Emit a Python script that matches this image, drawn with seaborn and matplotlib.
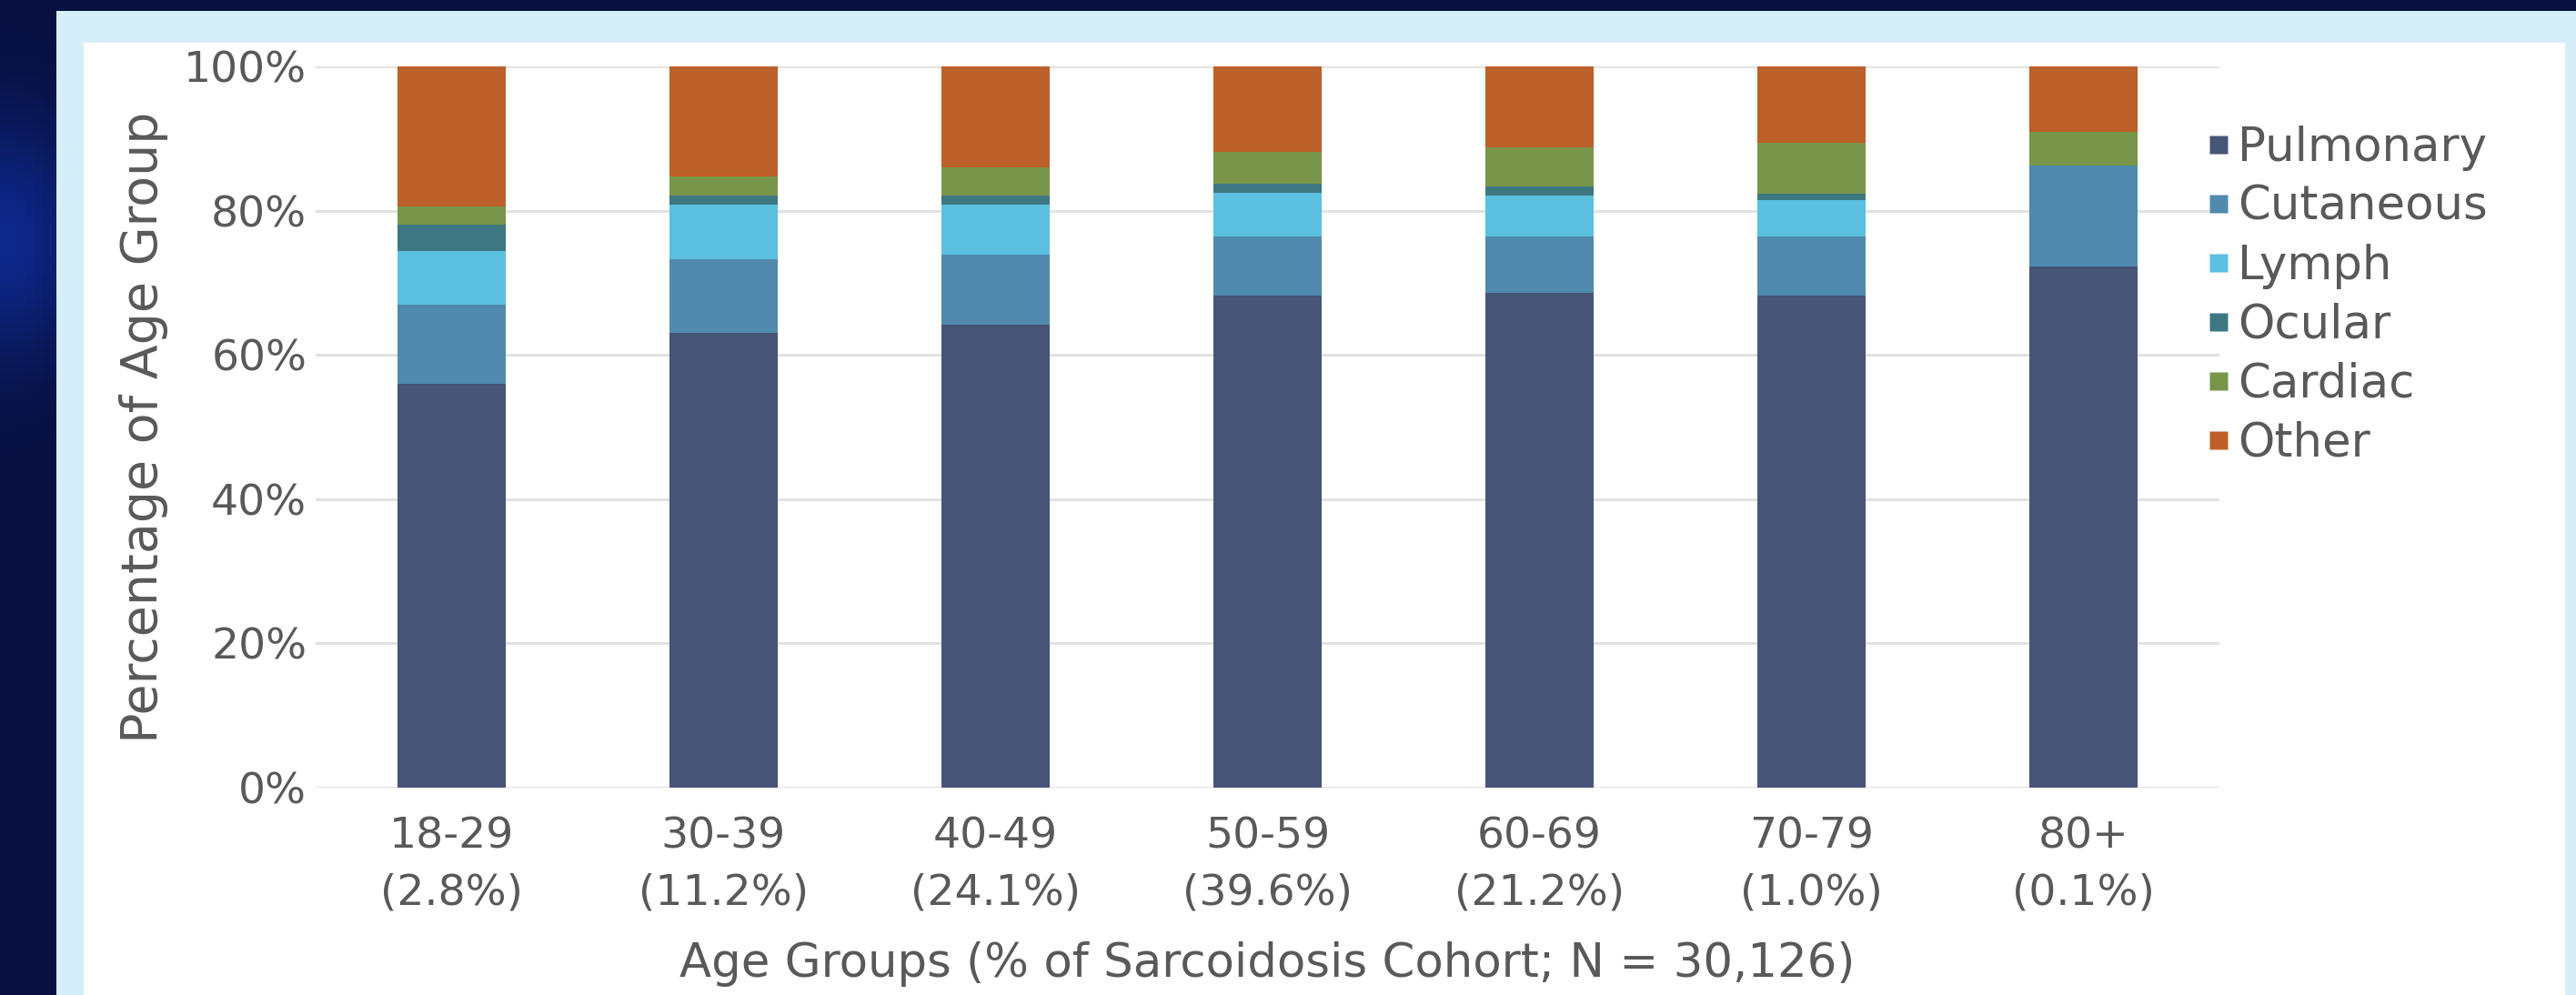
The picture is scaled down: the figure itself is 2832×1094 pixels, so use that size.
import numpy as np
import pandas as pd
import matplotlib
matplotlib.use("Agg")
import matplotlib.pyplot as plt
from matplotlib.patches import Rectangle
from matplotlib.lines import Line2D
import seaborn as sns

# ---------------- data ----------------
age_groups = ["18-29", "30-39", "40-49", "50-59", "60-69", "70-79", "80+"]
cohort_share = ["2.8%", "11.2%", "24.1%", "39.6%", "21.2%", "1.0%", "0.1%"]
series_names = ["Pulmonary", "Cutaneous", "Lymph", "Ocular", "Cardiac", "Other"]
pulmonary = [56.0, 63.0, 64.2, 68.2, 68.6, 68.2, 72.2]
cutaneous = [11.0, 10.3, 9.7, 8.2, 7.8, 8.2, 14.1]
lymph = [7.4, 7.5, 6.9, 6.1, 5.7, 5.1, 0.0]
ocular = [3.7, 1.3, 1.3, 1.2, 1.3, 0.8, 0.0]
cardiac = [2.5, 2.7, 3.9, 4.5, 5.4, 7.1, 4.6]
other = [19.4, 15.2, 14.0, 11.8, 11.2, 10.6, 9.1]
y_ticks = [0, 20, 40, 60, 80, 100]
x_title = "Age Groups (% of Sarcoidosis Cohort; N = 30,126)"
y_title = "Percentage of Age Group"

colors = ["#465578", "#508aae", "#5bbfe0", "#3d7882", "#78954a", "#bd5f28"]

# ---------------- style ----------------
sns.set_style("white")
plt.rcParams["font.family"] = ["DejaVu Sans"]
text_col = "#595959"

W, H, DPI = 2832, 1094, 100
fig = plt.figure(figsize=(W / DPI, H / DPI), dpi=DPI)
fig.patch.set_facecolor("#081040")

# subtle glow on the dark left border
bg = fig.add_axes([0, 0, 1, 1], zorder=-20)
gx = np.linspace(0, 1, 300)
gy = np.linspace(0, 1, 120)
GX, GY = np.meshgrid(gx, gy)
glow = np.exp(-(((GX - 0.0) / 0.03) ** 2 + ((GY - 0.76) / 0.12) ** 2))
base = np.array([8, 16, 64]) / 255.0
light = np.array([14, 40, 140]) / 255.0
img = base[None, None, :] * (1 - glow[..., None]) + light[None, None, :] * glow[..., None]
bg.imshow(img, extent=[0, 1, 0, 1], aspect="auto", origin="lower")
bg.set_axis_off()

# light-blue frame and white panel
fig.add_artist(Rectangle((62 / W, 0), 1 - 62 / W, 1 - 12 / H, transform=fig.transFigure,
                         facecolor="#d6eef8", edgecolor="none", zorder=-5))
fig.add_artist(Rectangle((92 / W, 0), (2820 - 92) / W, 1 - 47 / H, transform=fig.transFigure,
                         facecolor="white", edgecolor="none", zorder=-4))

ax = fig.add_axes([347 / W, 1 - 866 / H, (2440 - 347) / W, (866 - 73) / H])
ax.set_facecolor("none")

df = pd.DataFrame({"age": age_groups, "Pulmonary": pulmonary, "Cutaneous": cutaneous,
                   "Lymph": lymph, "Ocular": ocular, "Cardiac": cardiac, "Other": other})
cum = df[series_names].cumsum(axis=1)
cum["age"] = df["age"]

# draw cumulative bars from the top layer down so lower layers overlay
for name, col in reversed(list(zip(series_names, colors))):
    sns.barplot(data=cum, x="age", y=name, color=col, saturation=1, width=0.395,
                linewidth=0, edgecolor="none", ax=ax, zorder=3)

ax.set_xlim(-0.5, 6.5)
ax.set_ylim(0, 100)
ax.set_yticks(y_ticks)
ax.set_yticklabels([f"{t}%" for t in y_ticks])
ax.set_xticks(range(len(age_groups)))
ax.set_xticklabels([f"{a}\n({s})" for a, s in zip(age_groups, cohort_share)],
                   linespacing=1.47)
ax.yaxis.grid(True, color="#e2e2e2", linewidth=2.2, zorder=0)
ax.xaxis.grid(False)
ax.set_axisbelow(True)
for sp in ax.spines.values():
    sp.set_visible(False)
ax.tick_params(axis="y", length=0, pad=7, labelsize=34, labelcolor=text_col)
ax.tick_params(axis="x", length=0, pad=23, labelsize=34, labelcolor=text_col)
ax.set_xlabel(x_title, fontsize=37, color=text_col, labelpad=22)
ax.set_ylabel(y_title, fontsize=40, color=text_col, labelpad=12)

handles = [Line2D([0], [0], marker="s", linestyle="none", markersize=14.5,
                  markerfacecolor=c, markeredgecolor="none") for c in colors]
fig.legend(handles, series_names, loc="upper left", bbox_to_anchor=(2424 / W, 1 - 138 / H),
           frameon=False, fontsize=37, labelcolor=text_col, handlelength=0.6,
           handletextpad=0.1, labelspacing=0.29, borderpad=0, borderaxespad=0)

fig.savefig("out.png", dpi=DPI, facecolor=fig.get_facecolor())
